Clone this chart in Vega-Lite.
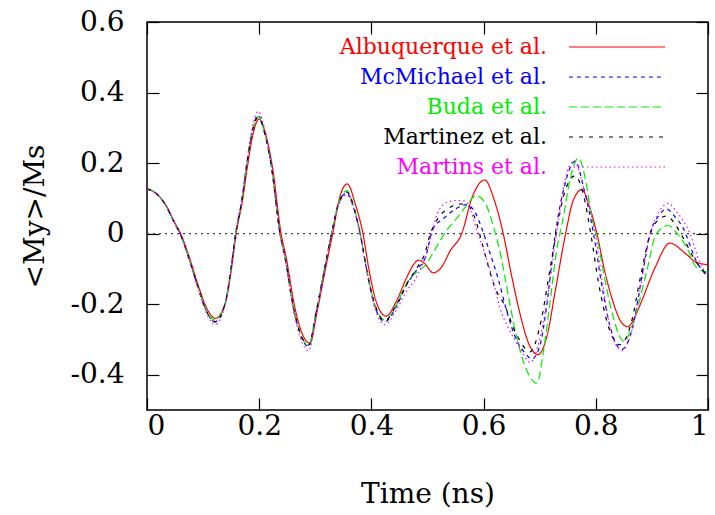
{
  "$schema": "https://vega.github.io/schema/vega-lite/v6.json",
  "width": 561,
  "height": 388,
  "autosize": {"type": "none"},
  "padding": {"left": 147, "top": 22, "right": 7, "bottom": 105},
  "background": "white",
  "config": {
    "view": {"stroke": "black", "strokeWidth": 1.5},
    "axis": {
      "grid": false,
      "domain": false,
      "tickColor": "black",
      "tickWidth": 1.2,
      "tickSize": -12,
      "labelFont": "DejaVu Serif",
      "labelFontWeight": "normal",
      "labelFontSize": 28,
      "labelColor": "black",
      "titleFont": "DejaVu Serif",
      "titleFontWeight": "normal",
      "titleColor": "black"
    }
  },
  "datasets": {
    "zero": [{"t": 0, "m": 0}, {"t": 1, "m": 0}],
    "curves": [
      {"s": "Albuquerque et al.", "t": 0, "m": 0.127},
      {"s": "Albuquerque et al.", "t": 0.014, "m": 0.117},
      {"s": "Albuquerque et al.", "t": 0.032, "m": 0.085},
      {"s": "Albuquerque et al.", "t": 0.05, "m": 0.03},
      {"s": "Albuquerque et al.", "t": 0.06, "m": 0},
      {"s": "Albuquerque et al.", "t": 0.075, "m": -0.065},
      {"s": "Albuquerque et al.", "t": 0.092, "m": -0.15},
      {"s": "Albuquerque et al.", "t": 0.107, "m": -0.213},
      {"s": "Albuquerque et al.", "t": 0.122, "m": -0.24},
      {"s": "Albuquerque et al.", "t": 0.14, "m": -0.195},
      {"s": "Albuquerque et al.", "t": 0.151, "m": -0.095},
      {"s": "Albuquerque et al.", "t": 0.159, "m": 0},
      {"s": "Albuquerque et al.", "t": 0.17, "m": 0.092},
      {"s": "Albuquerque et al.", "t": 0.179, "m": 0.19},
      {"s": "Albuquerque et al.", "t": 0.188, "m": 0.275},
      {"s": "Albuquerque et al.", "t": 0.2, "m": 0.325},
      {"s": "Albuquerque et al.", "t": 0.212, "m": 0.278},
      {"s": "Albuquerque et al.", "t": 0.224, "m": 0.185},
      {"s": "Albuquerque et al.", "t": 0.239, "m": 0},
      {"s": "Albuquerque et al.", "t": 0.248, "m": -0.067},
      {"s": "Albuquerque et al.", "t": 0.263, "m": -0.205},
      {"s": "Albuquerque et al.", "t": 0.277, "m": -0.285},
      {"s": "Albuquerque et al.", "t": 0.29, "m": -0.31},
      {"s": "Albuquerque et al.", "t": 0.304, "m": -0.215},
      {"s": "Albuquerque et al.", "t": 0.319, "m": -0.093},
      {"s": "Albuquerque et al.", "t": 0.331, "m": 0},
      {"s": "Albuquerque et al.", "t": 0.343, "m": 0.1},
      {"s": "Albuquerque et al.", "t": 0.357, "m": 0.141},
      {"s": "Albuquerque et al.", "t": 0.372, "m": 0.08},
      {"s": "Albuquerque et al.", "t": 0.385, "m": 0},
      {"s": "Albuquerque et al.", "t": 0.396, "m": -0.105},
      {"s": "Albuquerque et al.", "t": 0.409, "m": -0.195},
      {"s": "Albuquerque et al.", "t": 0.426, "m": -0.234},
      {"s": "Albuquerque et al.", "t": 0.445, "m": -0.19},
      {"s": "Albuquerque et al.", "t": 0.463, "m": -0.124},
      {"s": "Albuquerque et al.", "t": 0.475, "m": -0.088},
      {"s": "Albuquerque et al.", "t": 0.484, "m": -0.075},
      {"s": "Albuquerque et al.", "t": 0.495, "m": -0.085},
      {"s": "Albuquerque et al.", "t": 0.51, "m": -0.111},
      {"s": "Albuquerque et al.", "t": 0.525, "m": -0.095},
      {"s": "Albuquerque et al.", "t": 0.54, "m": -0.05},
      {"s": "Albuquerque et al.", "t": 0.561, "m": 0},
      {"s": "Albuquerque et al.", "t": 0.58, "m": 0.105},
      {"s": "Albuquerque et al.", "t": 0.602, "m": 0.152},
      {"s": "Albuquerque et al.", "t": 0.62, "m": 0.09},
      {"s": "Albuquerque et al.", "t": 0.635, "m": 0},
      {"s": "Albuquerque et al.", "t": 0.65, "m": -0.12},
      {"s": "Albuquerque et al.", "t": 0.665, "m": -0.228},
      {"s": "Albuquerque et al.", "t": 0.68, "m": -0.31},
      {"s": "Albuquerque et al.", "t": 0.697, "m": -0.343},
      {"s": "Albuquerque et al.", "t": 0.713, "m": -0.29},
      {"s": "Albuquerque et al.", "t": 0.728, "m": -0.16},
      {"s": "Albuquerque et al.", "t": 0.745, "m": -0.01},
      {"s": "Albuquerque et al.", "t": 0.76, "m": 0.095},
      {"s": "Albuquerque et al.", "t": 0.775, "m": 0.125},
      {"s": "Albuquerque et al.", "t": 0.79, "m": 0.07},
      {"s": "Albuquerque et al.", "t": 0.802, "m": 0},
      {"s": "Albuquerque et al.", "t": 0.815, "m": -0.1},
      {"s": "Albuquerque et al.", "t": 0.83, "m": -0.19},
      {"s": "Albuquerque et al.", "t": 0.845, "m": -0.25},
      {"s": "Albuquerque et al.", "t": 0.857, "m": -0.264},
      {"s": "Albuquerque et al.", "t": 0.87, "m": -0.235},
      {"s": "Albuquerque et al.", "t": 0.882, "m": -0.19},
      {"s": "Albuquerque et al.", "t": 0.906, "m": -0.095},
      {"s": "Albuquerque et al.", "t": 0.932, "m": -0.027},
      {"s": "Albuquerque et al.", "t": 0.961, "m": -0.058},
      {"s": "Albuquerque et al.", "t": 0.979, "m": -0.081},
      {"s": "Albuquerque et al.", "t": 1, "m": -0.088},

      {"s": "McMichael et al.", "t": 0, "m": 0.127},
      {"s": "McMichael et al.", "t": 0.014, "m": 0.117},
      {"s": "McMichael et al.", "t": 0.032, "m": 0.084},
      {"s": "McMichael et al.", "t": 0.05, "m": 0.027},
      {"s": "McMichael et al.", "t": 0.059, "m": 0},
      {"s": "McMichael et al.", "t": 0.074, "m": -0.067},
      {"s": "McMichael et al.", "t": 0.091, "m": -0.152},
      {"s": "McMichael et al.", "t": 0.106, "m": -0.22},
      {"s": "McMichael et al.", "t": 0.121, "m": -0.25},
      {"s": "McMichael et al.", "t": 0.139, "m": -0.2},
      {"s": "McMichael et al.", "t": 0.15, "m": -0.095},
      {"s": "McMichael et al.", "t": 0.158, "m": 0},
      {"s": "McMichael et al.", "t": 0.169, "m": 0.094},
      {"s": "McMichael et al.", "t": 0.178, "m": 0.198},
      {"s": "McMichael et al.", "t": 0.187, "m": 0.285},
      {"s": "McMichael et al.", "t": 0.198, "m": 0.335},
      {"s": "McMichael et al.", "t": 0.21, "m": 0.285},
      {"s": "McMichael et al.", "t": 0.222, "m": 0.188},
      {"s": "McMichael et al.", "t": 0.237, "m": 0},
      {"s": "McMichael et al.", "t": 0.246, "m": -0.067},
      {"s": "McMichael et al.", "t": 0.261, "m": -0.21},
      {"s": "McMichael et al.", "t": 0.275, "m": -0.293},
      {"s": "McMichael et al.", "t": 0.288, "m": -0.32},
      {"s": "McMichael et al.", "t": 0.302, "m": -0.22},
      {"s": "McMichael et al.", "t": 0.317, "m": -0.095},
      {"s": "McMichael et al.", "t": 0.329, "m": 0},
      {"s": "McMichael et al.", "t": 0.341, "m": 0.082},
      {"s": "McMichael et al.", "t": 0.356, "m": 0.115},
      {"s": "McMichael et al.", "t": 0.371, "m": 0.06},
      {"s": "McMichael et al.", "t": 0.38, "m": 0},
      {"s": "McMichael et al.", "t": 0.392, "m": -0.107},
      {"s": "McMichael et al.", "t": 0.406, "m": -0.205},
      {"s": "McMichael et al.", "t": 0.424, "m": -0.25},
      {"s": "McMichael et al.", "t": 0.445, "m": -0.205},
      {"s": "McMichael et al.", "t": 0.463, "m": -0.145},
      {"s": "McMichael et al.", "t": 0.48, "m": -0.105},
      {"s": "McMichael et al.", "t": 0.496, "m": -0.068},
      {"s": "McMichael et al.", "t": 0.51, "m": 0.014},
      {"s": "McMichael et al.", "t": 0.528, "m": 0.042},
      {"s": "McMichael et al.", "t": 0.55, "m": 0.07},
      {"s": "McMichael et al.", "t": 0.57, "m": 0.082},
      {"s": "McMichael et al.", "t": 0.585, "m": 0.06},
      {"s": "McMichael et al.", "t": 0.597, "m": 0.014},
      {"s": "McMichael et al.", "t": 0.611, "m": -0.053},
      {"s": "McMichael et al.", "t": 0.626, "m": -0.128},
      {"s": "McMichael et al.", "t": 0.641, "m": -0.218},
      {"s": "McMichael et al.", "t": 0.659, "m": -0.303},
      {"s": "McMichael et al.", "t": 0.672, "m": -0.335},
      {"s": "McMichael et al.", "t": 0.686, "m": -0.355},
      {"s": "McMichael et al.", "t": 0.7, "m": -0.32},
      {"s": "McMichael et al.", "t": 0.712, "m": -0.21},
      {"s": "McMichael et al.", "t": 0.727, "m": -0.01},
      {"s": "McMichael et al.", "t": 0.745, "m": 0.14},
      {"s": "McMichael et al.", "t": 0.763, "m": 0.205},
      {"s": "McMichael et al.", "t": 0.78, "m": 0.12},
      {"s": "McMichael et al.", "t": 0.796, "m": 0},
      {"s": "McMichael et al.", "t": 0.81, "m": -0.14},
      {"s": "McMichael et al.", "t": 0.825, "m": -0.26},
      {"s": "McMichael et al.", "t": 0.846, "m": -0.328},
      {"s": "McMichael et al.", "t": 0.865, "m": -0.27},
      {"s": "McMichael et al.", "t": 0.884, "m": -0.105},
      {"s": "McMichael et al.", "t": 0.897, "m": 0},
      {"s": "McMichael et al.", "t": 0.912, "m": 0.05},
      {"s": "McMichael et al.", "t": 0.926, "m": 0.07},
      {"s": "McMichael et al.", "t": 0.94, "m": 0.05},
      {"s": "McMichael et al.", "t": 0.955, "m": 0.018},
      {"s": "McMichael et al.", "t": 0.979, "m": -0.077},
      {"s": "McMichael et al.", "t": 1, "m": -0.124},

      {"s": "Buda et al.", "t": 0, "m": 0.127},
      {"s": "Buda et al.", "t": 0.014, "m": 0.117},
      {"s": "Buda et al.", "t": 0.032, "m": 0.084},
      {"s": "Buda et al.", "t": 0.05, "m": 0.027},
      {"s": "Buda et al.", "t": 0.059, "m": 0},
      {"s": "Buda et al.", "t": 0.074, "m": -0.067},
      {"s": "Buda et al.", "t": 0.091, "m": -0.152},
      {"s": "Buda et al.", "t": 0.106, "m": -0.218},
      {"s": "Buda et al.", "t": 0.121, "m": -0.245},
      {"s": "Buda et al.", "t": 0.139, "m": -0.2},
      {"s": "Buda et al.", "t": 0.15, "m": -0.095},
      {"s": "Buda et al.", "t": 0.158, "m": 0},
      {"s": "Buda et al.", "t": 0.169, "m": 0.094},
      {"s": "Buda et al.", "t": 0.178, "m": 0.197},
      {"s": "Buda et al.", "t": 0.187, "m": 0.283},
      {"s": "Buda et al.", "t": 0.198, "m": 0.332},
      {"s": "Buda et al.", "t": 0.21, "m": 0.283},
      {"s": "Buda et al.", "t": 0.222, "m": 0.188},
      {"s": "Buda et al.", "t": 0.237, "m": 0},
      {"s": "Buda et al.", "t": 0.246, "m": -0.067},
      {"s": "Buda et al.", "t": 0.261, "m": -0.209},
      {"s": "Buda et al.", "t": 0.275, "m": -0.29},
      {"s": "Buda et al.", "t": 0.288, "m": -0.315},
      {"s": "Buda et al.", "t": 0.302, "m": -0.218},
      {"s": "Buda et al.", "t": 0.317, "m": -0.095},
      {"s": "Buda et al.", "t": 0.329, "m": 0},
      {"s": "Buda et al.", "t": 0.341, "m": 0.085},
      {"s": "Buda et al.", "t": 0.356, "m": 0.122},
      {"s": "Buda et al.", "t": 0.371, "m": 0.062},
      {"s": "Buda et al.", "t": 0.38, "m": 0},
      {"s": "Buda et al.", "t": 0.392, "m": -0.105},
      {"s": "Buda et al.", "t": 0.406, "m": -0.2},
      {"s": "Buda et al.", "t": 0.424, "m": -0.245},
      {"s": "Buda et al.", "t": 0.445, "m": -0.2},
      {"s": "Buda et al.", "t": 0.463, "m": -0.14},
      {"s": "Buda et al.", "t": 0.484, "m": -0.105},
      {"s": "Buda et al.", "t": 0.496, "m": -0.09},
      {"s": "Buda et al.", "t": 0.514, "m": -0.043},
      {"s": "Buda et al.", "t": 0.532, "m": 0.004},
      {"s": "Buda et al.", "t": 0.556, "m": 0.051},
      {"s": "Buda et al.", "t": 0.574, "m": 0.089},
      {"s": "Buda et al.", "t": 0.586, "m": 0.108},
      {"s": "Buda et al.", "t": 0.602, "m": 0.089},
      {"s": "Buda et al.", "t": 0.617, "m": 0.023},
      {"s": "Buda et al.", "t": 0.632, "m": -0.072},
      {"s": "Buda et al.", "t": 0.64, "m": -0.14},
      {"s": "Buda et al.", "t": 0.659, "m": -0.294},
      {"s": "Buda et al.", "t": 0.675, "m": -0.38},
      {"s": "Buda et al.", "t": 0.695, "m": -0.424},
      {"s": "Buda et al.", "t": 0.707, "m": -0.33},
      {"s": "Buda et al.", "t": 0.718, "m": -0.2},
      {"s": "Buda et al.", "t": 0.729, "m": -0.06},
      {"s": "Buda et al.", "t": 0.742, "m": 0.046},
      {"s": "Buda et al.", "t": 0.755, "m": 0.16},
      {"s": "Buda et al.", "t": 0.769, "m": 0.214},
      {"s": "Buda et al.", "t": 0.782, "m": 0.15},
      {"s": "Buda et al.", "t": 0.793, "m": 0.046},
      {"s": "Buda et al.", "t": 0.802, "m": -0.01},
      {"s": "Buda et al.", "t": 0.815, "m": -0.12},
      {"s": "Buda et al.", "t": 0.83, "m": -0.23},
      {"s": "Buda et al.", "t": 0.85, "m": -0.305},
      {"s": "Buda et al.", "t": 0.865, "m": -0.26},
      {"s": "Buda et al.", "t": 0.878, "m": -0.19},
      {"s": "Buda et al.", "t": 0.891, "m": -0.105},
      {"s": "Buda et al.", "t": 0.908, "m": 0},
      {"s": "Buda et al.", "t": 0.929, "m": 0.023},
      {"s": "Buda et al.", "t": 0.945, "m": 0},
      {"s": "Buda et al.", "t": 0.962, "m": -0.039},
      {"s": "Buda et al.", "t": 0.979, "m": -0.095},
      {"s": "Buda et al.", "t": 1, "m": -0.11},

      {"s": "Martinez et al.", "t": 0, "m": 0.127},
      {"s": "Martinez et al.", "t": 0.014, "m": 0.117},
      {"s": "Martinez et al.", "t": 0.032, "m": 0.084},
      {"s": "Martinez et al.", "t": 0.05, "m": 0.027},
      {"s": "Martinez et al.", "t": 0.059, "m": 0},
      {"s": "Martinez et al.", "t": 0.074, "m": -0.067},
      {"s": "Martinez et al.", "t": 0.091, "m": -0.152},
      {"s": "Martinez et al.", "t": 0.106, "m": -0.22},
      {"s": "Martinez et al.", "t": 0.121, "m": -0.25},
      {"s": "Martinez et al.", "t": 0.139, "m": -0.2},
      {"s": "Martinez et al.", "t": 0.15, "m": -0.095},
      {"s": "Martinez et al.", "t": 0.158, "m": 0},
      {"s": "Martinez et al.", "t": 0.169, "m": 0.094},
      {"s": "Martinez et al.", "t": 0.178, "m": 0.197},
      {"s": "Martinez et al.", "t": 0.187, "m": 0.283},
      {"s": "Martinez et al.", "t": 0.198, "m": 0.33},
      {"s": "Martinez et al.", "t": 0.21, "m": 0.283},
      {"s": "Martinez et al.", "t": 0.222, "m": 0.188},
      {"s": "Martinez et al.", "t": 0.237, "m": 0},
      {"s": "Martinez et al.", "t": 0.246, "m": -0.067},
      {"s": "Martinez et al.", "t": 0.261, "m": -0.209},
      {"s": "Martinez et al.", "t": 0.275, "m": -0.29},
      {"s": "Martinez et al.", "t": 0.288, "m": -0.316},
      {"s": "Martinez et al.", "t": 0.302, "m": -0.218},
      {"s": "Martinez et al.", "t": 0.317, "m": -0.095},
      {"s": "Martinez et al.", "t": 0.329, "m": 0},
      {"s": "Martinez et al.", "t": 0.341, "m": 0.083},
      {"s": "Martinez et al.", "t": 0.356, "m": 0.118},
      {"s": "Martinez et al.", "t": 0.371, "m": 0.061},
      {"s": "Martinez et al.", "t": 0.38, "m": 0},
      {"s": "Martinez et al.", "t": 0.392, "m": -0.105},
      {"s": "Martinez et al.", "t": 0.406, "m": -0.2},
      {"s": "Martinez et al.", "t": 0.424, "m": -0.247},
      {"s": "Martinez et al.", "t": 0.445, "m": -0.2},
      {"s": "Martinez et al.", "t": 0.463, "m": -0.143},
      {"s": "Martinez et al.", "t": 0.48, "m": -0.1},
      {"s": "Martinez et al.", "t": 0.496, "m": -0.053},
      {"s": "Martinez et al.", "t": 0.504, "m": -0.006},
      {"s": "Martinez et al.", "t": 0.518, "m": 0.042},
      {"s": "Martinez et al.", "t": 0.536, "m": 0.07},
      {"s": "Martinez et al.", "t": 0.561, "m": 0.084},
      {"s": "Martinez et al.", "t": 0.572, "m": 0.08},
      {"s": "Martinez et al.", "t": 0.585, "m": 0.042},
      {"s": "Martinez et al.", "t": 0.597, "m": -0.025},
      {"s": "Martinez et al.", "t": 0.608, "m": -0.09},
      {"s": "Martinez et al.", "t": 0.622, "m": -0.16},
      {"s": "Martinez et al.", "t": 0.635, "m": -0.195},
      {"s": "Martinez et al.", "t": 0.66, "m": -0.29},
      {"s": "Martinez et al.", "t": 0.683, "m": -0.335},
      {"s": "Martinez et al.", "t": 0.7, "m": -0.265},
      {"s": "Martinez et al.", "t": 0.718, "m": -0.105},
      {"s": "Martinez et al.", "t": 0.727, "m": -0.02},
      {"s": "Martinez et al.", "t": 0.745, "m": 0.12},
      {"s": "Martinez et al.", "t": 0.763, "m": 0.164},
      {"s": "Martinez et al.", "t": 0.778, "m": 0.11},
      {"s": "Martinez et al.", "t": 0.791, "m": 0},
      {"s": "Martinez et al.", "t": 0.805, "m": -0.14},
      {"s": "Martinez et al.", "t": 0.82, "m": -0.25},
      {"s": "Martinez et al.", "t": 0.843, "m": -0.315},
      {"s": "Martinez et al.", "t": 0.862, "m": -0.26},
      {"s": "Martinez et al.", "t": 0.88, "m": -0.12},
      {"s": "Martinez et al.", "t": 0.897, "m": 0},
      {"s": "Martinez et al.", "t": 0.912, "m": 0.04},
      {"s": "Martinez et al.", "t": 0.926, "m": 0.05},
      {"s": "Martinez et al.", "t": 0.94, "m": 0.03},
      {"s": "Martinez et al.", "t": 0.955, "m": -0.01},
      {"s": "Martinez et al.", "t": 0.979, "m": -0.08},
      {"s": "Martinez et al.", "t": 1, "m": -0.12},

      {"s": "Martins et al.", "t": 0, "m": 0.127},
      {"s": "Martins et al.", "t": 0.014, "m": 0.117},
      {"s": "Martins et al.", "t": 0.032, "m": 0.084},
      {"s": "Martins et al.", "t": 0.05, "m": 0.026},
      {"s": "Martins et al.", "t": 0.059, "m": 0},
      {"s": "Martins et al.", "t": 0.074, "m": -0.068},
      {"s": "Martins et al.", "t": 0.091, "m": -0.156},
      {"s": "Martins et al.", "t": 0.106, "m": -0.226},
      {"s": "Martins et al.", "t": 0.121, "m": -0.258},
      {"s": "Martins et al.", "t": 0.139, "m": -0.205},
      {"s": "Martins et al.", "t": 0.15, "m": -0.098},
      {"s": "Martins et al.", "t": 0.158, "m": 0},
      {"s": "Martins et al.", "t": 0.169, "m": 0.098},
      {"s": "Martins et al.", "t": 0.178, "m": 0.205},
      {"s": "Martins et al.", "t": 0.187, "m": 0.295},
      {"s": "Martins et al.", "t": 0.198, "m": 0.347},
      {"s": "Martins et al.", "t": 0.21, "m": 0.295},
      {"s": "Martins et al.", "t": 0.222, "m": 0.195},
      {"s": "Martins et al.", "t": 0.237, "m": 0},
      {"s": "Martins et al.", "t": 0.246, "m": -0.07},
      {"s": "Martins et al.", "t": 0.261, "m": -0.218},
      {"s": "Martins et al.", "t": 0.275, "m": -0.303},
      {"s": "Martins et al.", "t": 0.288, "m": -0.332},
      {"s": "Martins et al.", "t": 0.302, "m": -0.226},
      {"s": "Martins et al.", "t": 0.317, "m": -0.098},
      {"s": "Martins et al.", "t": 0.329, "m": 0},
      {"s": "Martins et al.", "t": 0.341, "m": 0.078},
      {"s": "Martins et al.", "t": 0.356, "m": 0.11},
      {"s": "Martins et al.", "t": 0.371, "m": 0.056},
      {"s": "Martins et al.", "t": 0.38, "m": 0},
      {"s": "Martins et al.", "t": 0.392, "m": -0.11},
      {"s": "Martins et al.", "t": 0.406, "m": -0.21},
      {"s": "Martins et al.", "t": 0.424, "m": -0.258},
      {"s": "Martins et al.", "t": 0.445, "m": -0.215},
      {"s": "Martins et al.", "t": 0.463, "m": -0.162},
      {"s": "Martins et al.", "t": 0.478, "m": -0.13},
      {"s": "Martins et al.", "t": 0.489, "m": -0.095},
      {"s": "Martins et al.", "t": 0.499, "m": -0.055},
      {"s": "Martins et al.", "t": 0.508, "m": 0},
      {"s": "Martins et al.", "t": 0.517, "m": 0.055},
      {"s": "Martins et al.", "t": 0.535, "m": 0.089},
      {"s": "Martins et al.", "t": 0.55, "m": 0.094},
      {"s": "Martins et al.", "t": 0.565, "m": 0.093},
      {"s": "Martins et al.", "t": 0.575, "m": 0.075},
      {"s": "Martins et al.", "t": 0.587, "m": 0.014},
      {"s": "Martins et al.", "t": 0.603, "m": -0.06},
      {"s": "Martins et al.", "t": 0.618, "m": -0.14},
      {"s": "Martins et al.", "t": 0.629, "m": -0.21},
      {"s": "Martins et al.", "t": 0.645, "m": -0.27},
      {"s": "Martins et al.", "t": 0.665, "m": -0.325},
      {"s": "Martins et al.", "t": 0.683, "m": -0.365},
      {"s": "Martins et al.", "t": 0.7, "m": -0.3},
      {"s": "Martins et al.", "t": 0.712, "m": -0.2},
      {"s": "Martins et al.", "t": 0.73, "m": 0},
      {"s": "Martins et al.", "t": 0.745, "m": 0.15},
      {"s": "Martins et al.", "t": 0.761, "m": 0.207},
      {"s": "Martins et al.", "t": 0.78, "m": 0.12},
      {"s": "Martins et al.", "t": 0.799, "m": 0},
      {"s": "Martins et al.", "t": 0.812, "m": -0.14},
      {"s": "Martins et al.", "t": 0.826, "m": -0.27},
      {"s": "Martins et al.", "t": 0.846, "m": -0.332},
      {"s": "Martins et al.", "t": 0.865, "m": -0.27},
      {"s": "Martins et al.", "t": 0.88, "m": -0.15},
      {"s": "Martins et al.", "t": 0.897, "m": 0},
      {"s": "Martins et al.", "t": 0.912, "m": 0.06},
      {"s": "Martins et al.", "t": 0.929, "m": 0.086},
      {"s": "Martins et al.", "t": 0.945, "m": 0.06},
      {"s": "Martins et al.", "t": 0.968, "m": 0},
      {"s": "Martins et al.", "t": 0.985, "m": -0.08},
      {"s": "Martins et al.", "t": 1, "m": -0.12}
    ]
  },
  "layer": [
    {
      "data": {"name": "zero"},
      "mark": {"type": "line", "stroke": "#444444", "strokeDash": [2, 4], "strokeWidth": 1.2},
      "encoding": {
        "x": {
          "field": "t", "type": "quantitative",
          "scale": {"domain": [0, 1], "nice": false, "zero": false},
          "axis": {"orient": "top", "labels": false, "title": null, "values": [0, 0.2, 0.4, 0.6, 0.8, 1]}
        },
        "y": {
          "field": "m", "type": "quantitative",
          "scale": {"domain": [-0.5, 0.6], "nice": false, "zero": false},
          "axis": {"orient": "right", "labels": false, "title": null, "values": [-0.4, -0.2, 0, 0.2, 0.4, 0.6]}
        }
      }
    },
    {
      "data": {"name": "curves"},
      "mark": {"type": "line", "strokeWidth": 1.2, "interpolate": "monotone"},
      "encoding": {
        "x": {
          "field": "t", "type": "quantitative",
          "scale": {"domain": [0, 1], "nice": false, "zero": false},
          "axis": {
            "orient": "bottom", "title": "Time (ns)", "titleFontSize": 28,
            "labelFont": "DejaVu Serif", "titleFont": "DejaVu Serif",
            "values": [0, 0.2, 0.4, 0.6, 0.8, 1],
            "labelPadding": 14, "titlePadding": 40,
            "labelExpr": "datum.value == 0 ? '0' : datum.value == 1 ? '1' : format(datum.value, '.1f')"
          }
        },
        "y": {
          "field": "m", "type": "quantitative",
          "scale": {"domain": [-0.5, 0.6], "nice": false, "zero": false},
          "axis": {
            "orient": "left", "title": "<My>/Ms", "titleFontSize": 28,
            "labelFont": "DejaVu Serif", "titleFont": "DejaVu Serif",
            "values": [-0.4, -0.2, 0, 0.2, 0.4, 0.6],
            "labelPadding": 35, "titlePadding": 21,
            "labelExpr": "datum.value == 0 ? '0' : (datum.value < 0 ? '-' : '') + format(abs(datum.value), '.1f')"
          }
        },
        "color": {
          "field": "s", "type": "nominal",
          "scale": {
            "domain": ["Albuquerque et al.", "McMichael et al.", "Buda et al.", "Martinez et al.", "Martins et al."],
            "range": ["#ff0000", "#0000ff", "#00ee00", "#000000", "#ff00ff"]
          },
          "legend": {
            "title": null, "orient": "none", "legendX": 457, "legendY": 12,
            "symbolType": "M-4,0H4", "symbolSize": 576, "symbolStrokeWidth": 1.2,
            "labelFont": "DejaVu Serif", "labelFontWeight": "normal", "labelFontSize": 22, "labelAlign": "right",
            "labelOffset": -83, "labelLimit": 400, "rowPadding": 6, "padding": 0,
            "encode": {"labels": {"update": {"fill": {"scale": "color", "field": "value"}}}}
          }
        },
        "strokeDash": {
          "field": "s", "type": "nominal",
          "scale": {
            "domain": ["Albuquerque et al.", "McMichael et al.", "Buda et al.", "Martinez et al.", "Martins et al."],
            "range": [[1, 0], [4, 4], [8, 4], [4, 6], [1.5, 3]]
          },
          "legend": {
            "title": null, "orient": "none", "legendX": 457, "legendY": 12,
            "symbolType": "M-4,0H4", "symbolSize": 576, "symbolStrokeWidth": 1.2,
            "labelFont": "DejaVu Serif", "labelFontWeight": "normal", "labelFontSize": 22, "labelAlign": "right",
            "labelOffset": -83, "labelLimit": 400, "rowPadding": 6, "padding": 0,
            "encode": {"labels": {"update": {"fill": {"scale": "color", "field": "value"}}}}
          }
        }
      }
    }
  ],
  "resolve": {"axis": {"x": "independent", "y": "independent"}}
}
